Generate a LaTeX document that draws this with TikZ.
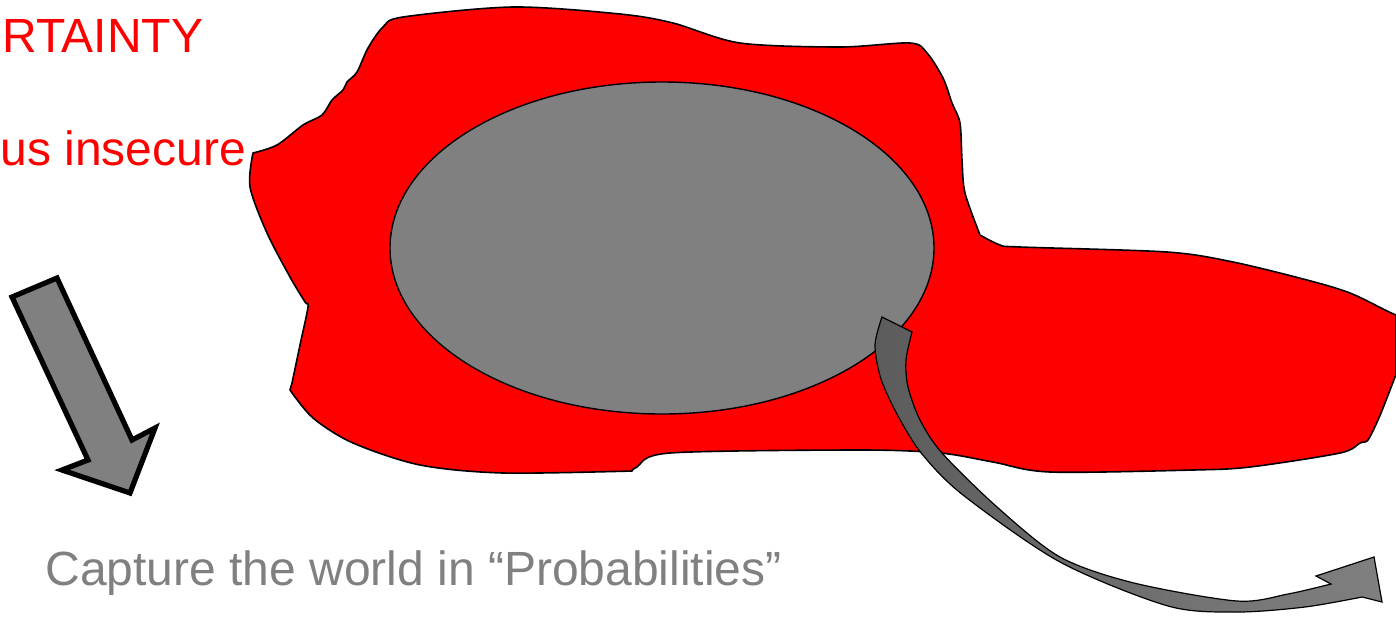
\documentclass[tikz,border=0pt]{standalone}
\usepackage{fontspec}
\setmainfont{Liberation Sans}
\usetikzlibrary{positioning}
\definecolor{blobred}{RGB}{255,0,0}
\definecolor{coregray}{RGB}{128,128,128}
\definecolor{tailgray}{RGB}{92,92,92}
\definecolor{capgray}{RGB}{128,128,128}
\tikzset{
  blob/.style={fill=blobred, draw=black, line width=0.8pt, line join=round},
  core/.style={fill=coregray, draw=black, line width=0.7pt},
  bigarrow/.style={fill=coregray, draw=black, line width=2.6pt, line join=miter},
  bendarrow/.style={left color=tailgray, right color=coregray, draw=black,
    line width=0.6pt, line join=miter},
  redtext/.style={text=blobred, font=\fontsize{24}{28}\selectfont, inner sep=0pt},
  graytext/.style={text=capgray, font=\fontsize{24}{28}\selectfont, inner sep=0pt}
}

\begin{document}
\begin{tikzpicture}[x=0.5pt, y=-0.5pt]
  \useasboundingbox (0,0) rectangle (1396,616);
  \clip (0,0) rectangle (1396,616);

  % Red blob
  \path[blob] plot[smooth, tension=0.5] coordinates {(253,153) (277,145) (303,125)
      (322,115) (332,100) (343,90) (347,82) (357,72) (368,48) (383,27) (403,17)
      (513,7) (620,14) (673,23) (740,43) (840,47) (910,43) (927,53) (943,78)
      (952,103) (960,123) (962,160) (965,193) (980,235)}
    -- plot[smooth, tension=0.5] coordinates {(980,235) (1000,245) (1020,247)
      (1167,252) (1233,262) (1307,280) (1350,293) (1387,311) (1396,315)}
    -- (1396,376)
    -- plot[smooth, tension=0.5] coordinates {(1395,377) (1385,403) (1378,420)
      (1368,440) (1360,443) (1340,453) (1250,467) (1193,470) (1050,472)
      (993,462) (940,453) (860,450) (670,453) (637,467) (632,471)}
    -- plot[smooth, tension=0.5] coordinates {(632,471) (503,473) (420,465)
      (353,443) (313,418) (290,390)}
    -- plot[smooth, tension=0.5] coordinates {(292,383) (300,345) (308,307)
      (305,302) (290,277) (267,233) (250,187) (253,153)}
    -- cycle;

  % Gray core
  \draw[core] (662,248) ellipse [x radius=136pt, y radius=83pt];

  % Bent arrow out of the core
  \path[bendarrow] plot[smooth, tension=0.5] coordinates {(882,317) (875,345)
      (881,379) (898,416) (922,454) (963,495) (1060,562) (1168,606) (1237,612)
      (1305,607) (1362,597)}
    -- (1382,602) -- (1374,557) -- (1316,576)
    -- plot[smooth, tension=0.5] coordinates {(1331,584) (1288,594) (1237,601)
      (1134,583) (1060,557) (997,507) (942,453) (920,420) (908,387) (906,360)
      (912,332)}
    -- cycle;

  % Straight arrow
  \path[bigarrow] (12,297) -- (57,278) -- (132,440) -- (155,428) -- (130,493)
    -- (62,470) -- (88,460) -- cycle;

  % Texts
  \node[redtext, anchor=base west] (uncert) at (2,52) {RTAINTY};
  \node[redtext, anchor=base west] (insec) at (0,165) {us insecure};
  \node[graytext, anchor=base west] (capture) at (45,585) {Capture the world in “Probabilities”};

\end{tikzpicture}
\end{document}
